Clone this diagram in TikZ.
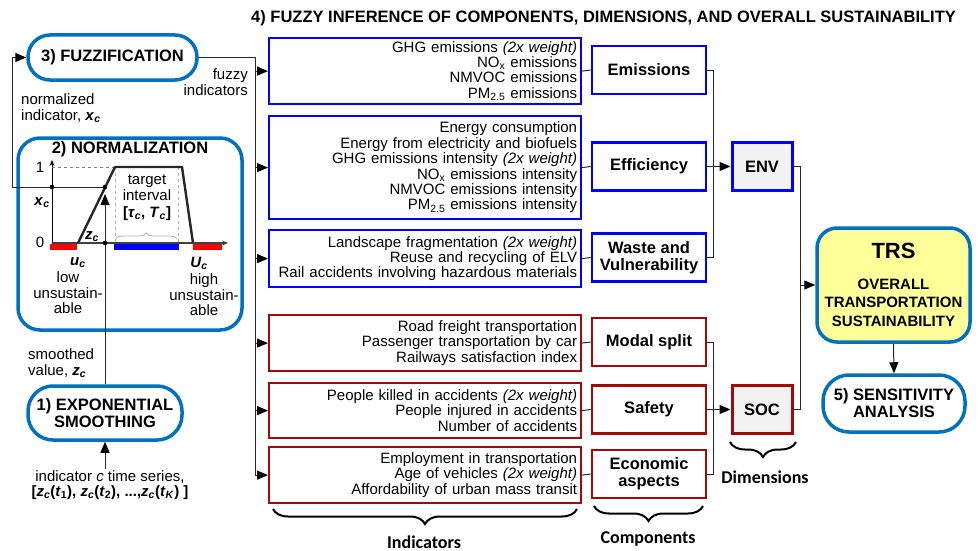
\documentclass[tikz,border=0pt]{standalone}
\usepackage{fontspec}
\setmainfont{Liberation Sans}
\newfontfamily\calibfont{Carlito}
\usetikzlibrary{arrows.meta,decorations.pathreplacing,positioning}
\definecolor{procblue}{RGB}{0,112,192}
\definecolor{indblue}{RGB}{0,0,255}
\definecolor{indred}{RGB}{160,10,10}
\definecolor{trsyellow}{RGB}{255,255,153}
\definecolor{dimfill}{RGB}{242,242,242}
\definecolor{wire}{RGB}{40,40,40}
\newcommand{\vsub}[2]{\textbf{\textit{#1}\textsubscript{\textit{#2}}}}

\begin{document}
\begin{tikzpicture}[
    x=1pt, y=-1pt,
    font=\fontsize{15}{15.4}\selectfont,
    indbox/.style={draw, line width=2.2pt, anchor=north west,
                   minimum width=312pt, text width=304pt,
                   align=right, inner sep=3pt},
    compbox/.style={draw, line width=2.6pt, minimum width=114pt,
                    minimum height=48pt, align=center, inner sep=2pt,
                    font=\fontsize{16.5}{17}\selectfont\bfseries},
    dimbox/.style={compbox, fill=dimfill, minimum width=60pt, line width=3pt},
    proc/.style={draw=procblue, line width=3.5pt, rounded corners=20pt,
                 align=center, inner sep=2pt,
                 font=\fontsize{16.5}{17}\selectfont\bfseries},
    txt/.style={align=center, inner sep=1pt},
    bracelbl/.style={font=\calibfont\fontsize{18}{20}\selectfont\bfseries},
    conn/.style={draw=wire, line width=1pt},
    arr/.style={conn, -{Triangle[length=11pt,width=9pt,color=black]}},
    brc/.style={decorate, decoration={brace, amplitude=15pt}, line width=2pt}
]
\useasboundingbox (0,0) rectangle (979,551);
% --- title ----------------------------------------------------------------
\node[anchor=west, inner sep=0pt, font=\fontsize{16.5}{18}\selectfont\bfseries]
    (title) at (251,18) {4) FUZZY INFERENCE OF COMPONENTS, DIMENSIONS, AND OVERALL SUSTAINABILITY};
% --- process steps --------------------------------------------------------
\node[proc, minimum width=169pt, minimum height=45pt, rounded corners=22pt]
    (fuz) at (112.5,57.5) {3) FUZZIFICATION};
\node[proc, minimum width=224pt, minimum height=192pt, rounded corners=22pt]
    (norm) at (130,234) {};
\node[txt, font=\fontsize{16.5}{17}\selectfont\bfseries] (normt) at (130,149) {2) NORMALIZATION};
\node[proc, minimum width=154pt, minimum height=54pt, rounded corners=25pt]
    (smooth) at (105,413) {1) EXPONENTIAL\\SMOOTHING};
\node[proc, fill=trsyellow, minimum width=153pt, minimum height=114pt,
      font=\fontsize{15}{18.5}\selectfont\bfseries]
    (trs) at (893.5,285) {{\fontsize{22}{24}\selectfont TRS}\\[12pt]OVERALL\\TRANSPORTATION\\SUSTAINABILITY};
\node[proc, minimum width=142pt, minimum height=57pt, rounded corners=26pt]
    (sens) at (894,403.5) {5) SENSITIVITY\\ANALYSIS};
% --- indicators -----------------------------------------------------------
\node[indbox, draw=indblue, minimum height=66pt] (i1) at (268,37)
    {GHG emissions \textit{(2x weight)}\\NO\textsubscript{x} emissions\\NMVOC emissions\\PM\textsubscript{2.5} emissions};
\node[indbox, draw=indblue, minimum height=103pt] (i2) at (268,115)
    {Energy consumption\\Energy from electricity and biofuels\\GHG emissions intensity \textit{(2x weight)}\\NO\textsubscript{x} emissions intensity\\NMVOC emissions intensity\\PM\textsubscript{2.5} emissions intensity};
\node[indbox, draw=indblue, minimum height=57pt] (i3) at (268,229)
    {Landscape fragmentation \textit{(2x weight)}\\Reuse and recycling of ELV\\Rail accidents involving hazardous materials};
\node[indbox, draw=indred, minimum height=56pt] (i4) at (268,314)
    {Road freight transportation\\Passenger transportation by car\\Railways satisfaction index};
\node[indbox, draw=indred, minimum height=55pt] (i5) at (268,382)
    {People killed in accidents \textit{(2x weight)}\\People injured in accidents\\Number of accidents};
\node[indbox, draw=indred, minimum height=56pt] (i6) at (268,446)
    {Employment in transportation\\Age of vehicles \textit{(2x weight)}\\Affordability of urban mass transit};
% --- components and dimensions --------------------------------------------
\node[compbox, draw=indblue] (emis)  at (649,70)    {Emissions};
\node[compbox, draw=indblue] (effi)  at (649,166.5) {Efficiency};
\node[compbox, draw=indblue] (waste) at (649,257.5) {Waste and\\Vulnerability};
\node[compbox, draw=indred]  (modal) at (649,342)   {Modal split};
\node[compbox, draw=indred]  (safe)  at (649,409.5) {Safety};
\node[compbox, draw=indred]  (econ)  at (649,474)   {Economic\\aspects};
\node[dimbox, draw=indblue] (env) at (762,166.5) {ENV};
\node[dimbox, draw=indred]  (soc) at (762,409.5) {SOC};
% --- normalization chart ----------------------------------------------------
\fill[red]  (50,244) rectangle (77,250);
\fill[blue] (114,244) rectangle (179,250);
\fill[red]  (193,244) rectangle (222,250);
\draw[gray!50!black, line width=2.4pt, -{Stealth[length=6pt,width=5pt]}] (52,243) -- (228,243);
\draw[black, line width=0.8pt, -{Stealth[length=6pt,width=5pt]}] (52,243) -- (52,160);
\draw[gray, dashed, line width=0.6pt] (52,167) -- (115,167);
\draw[gray!60, dashed, line width=0.6pt] (115,167) -- (115,243) (178,167) -- (178,243);
\draw[gray!30!black, line width=2.4pt, line join=round] (78,243) -- (115,167) -- (182,167) -- (193,243);
\draw[brc, gray!60, line width=0.8pt, decoration={amplitude=6pt}] (116,239) -- (177,239);
\node[txt] (one)  at (40,167) {1};
\node[txt] (zero) at (40,242) {0};
\node[txt] (xclbl) at (42,203) {\vsub{x}{c}};
\node[txt] (zclbl) at (92,237) {\vsub{z}{c}};
\node[txt] (target) at (147,198) {target\\interval\\[2pt]\textbf{[\textit{τ}\textsubscript{\textit{c}}, \textit{T}\textsubscript{\textit{c}}]}};
\node[txt] (uc)   at (78,263)  {\vsub{u}{c}};
\node[txt] (low)  at (68,293)  {low\\unsustain-\\able};
\node[txt] (Uc)   at (199,263) {\vsub{U}{c}};
\node[txt] (high) at (204,295) {high\\unsustain-\\able};
\coordinate (xcpt) at (105,187);
\coordinate (xcaxis) at (52,187);
\coordinate (zaxis) at (105,243);
\coordinate (ztip) at (105,194);
\coordinate (loopc) at (12,187);
% --- side labels ------------------------------------------------------------
\node[txt, anchor=west, align=left] (normlbl) at (20,108) {normalized\\indicator, \vsub{x}{c}};
\node[txt, anchor=east, align=right] (fuzlbl) at (249,82) {fuzzy\\indicators};
\node[txt, anchor=west, align=left] (smlbl) at (27,363) {smoothed\\value, \vsub{z}{c}};
\node[txt] (series) at (110,485) {indicator \textit{c} time series,\\
    \textbf{[\textit{z}\textsubscript{\textit{c}}(\textit{t}\textsubscript{1}), \textit{z}\textsubscript{\textit{c}}(\textit{t}\textsubscript{2}), ...,\textit{z}\textsubscript{\textit{c}}(\textit{t}\textsubscript{\textit{K}}) ]}};
% --- arrows -----------------------------------------------------------------
\draw[arr] (series.north -| smooth.south) -- (smooth.south);
\draw[arr] (smooth.north) -- (ztip);
\draw[arr] (xcpt) -- (loopc) |- (fuz.west);
\fill (xcaxis) circle (2.3pt);
\fill (xcpt) circle (2.3pt);
\fill (zaxis) circle (2.3pt);
\coordinate (fbus) at (255,57.5);
\draw[conn] (fuz.east) -- (fbus) -- (fbus |- i6.west);
\foreach \b in {i1,i2,i3,i4,i5,i6}
    \draw[arr] (fbus |- \b.west) -- (\b.west);
\foreach \a/\b in {i1/emis,i2/effi,i3/waste,i4/modal,i5/safe,i6/econ}
    \draw[conn] (\a.east) -- (\b.west);
\coordinate (cbus) at (713,0);
\draw[conn] (emis.east) -- (emis.east -| cbus) -- (waste.east -| cbus) -- (waste.east);
\draw[arr] (effi.east) -- (env.west);
\draw[conn] (modal.east) -- (modal.east -| cbus) -- (econ.east -| cbus) -- (econ.east);
\draw[arr] (safe.east) -- (soc.west);
\coordinate (tbus) at (800,0);
\draw[conn] (env.east) -- (env.east -| tbus) -- (soc.east -| tbus) -- (soc.east);
\draw[arr] (trs.west -| tbus) -- (trs.west);
\draw[arr] (trs.south) -- (sens.north);
% --- braces -----------------------------------------------------------------
\draw[brc] (577,509) -- (273,509);
\node[bracelbl] (indlbl) at (424,542) {Indicators};
\draw[brc] (703,506) -- (594,506);
\node[bracelbl] (complbl) at (648,539) {Components};
\draw[brc] (796,442) -- (730,442);
\node[bracelbl] (dimlbl) at (765,477) {Dimensions};
\end{tikzpicture}
\end{document}
